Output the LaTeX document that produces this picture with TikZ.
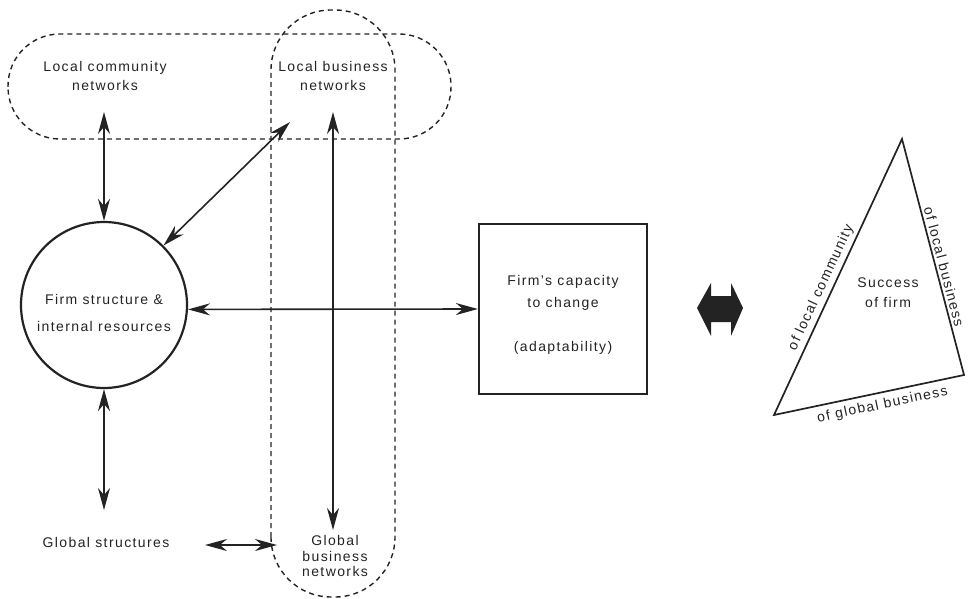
\documentclass[tikz,border=0pt]{standalone}
\usepackage{fontspec}
\setmainfont{Liberation Sans}[LetterSpace=10]
\usetikzlibrary{arrows.meta}
\definecolor{inkGray}{RGB}{35,35,35}

\begin{document}
\begin{tikzpicture}[x=1pt,y=1pt,
    every node/.style={font=\fontsize{14}{19}\selectfont, text=inkGray, align=center},
    netzone/.style={draw=inkGray, line width=1.4pt, dash pattern=on 5pt off 4pt},
    link/.style={draw=inkGray, line width=1.6pt,
      {Stealth[length=22pt,width=12pt,inset=7pt]}-{Stealth[length=22pt,width=12pt,inset=7pt]}},
    firmcirc/.style={draw=inkGray, circle, line width=2.2pt, minimum size=166pt, inner sep=0pt},
    capbox/.style={draw=inkGray, line width=2.2pt, minimum width=168pt, minimum height=170pt, inner sep=0pt}]
  \useasboundingbox (0,0) rectangle (968,598);

  % dashed network zones
  \draw[netzone, rounded corners=52pt] (8,459) rectangle (451,564);
  \draw[netzone, rounded corners=60pt] (271,1) rectangle (395,588);

  % the firm and its capacity
  \node[firmcirc] (firm) at (104,293) {};
  \node[font=\fontsize{14}{27}\selectfont] (firmtxt) at (104,285) {Firm structure \&\\internal resources};
  \node[capbox] (cap) at (563,289) {};
  \node[font=\fontsize{14}{22}\selectfont] (captxt) at (563,283) {Firm’s capacity\\to change\\[22pt](adaptability)};

  % networks
  \node (lcn) at (105,522) {Local community\\networks};
  \node (lbn) at (333,522) {Local business\\networks};
  \node (gs) at (106,56) {Global structures};
  \node[font=\fontsize{14}{15.5}\selectfont] (gbn) at (335,42) {Global\\business\\networks};

  \coordinate (lcend) at (104,486);
  \coordinate (lbendA) at (290,476);
  \coordinate (lbendB) at (333,486);
  \coordinate (gbend) at (333,68);
  \coordinate (gsend) at (104,88);
  \coordinate (gsright) at (205,53);
  \coordinate (gbleft) at (277,53);

  \draw[link] (lcend) -- (firm.north);
  \draw[link] (lbendA) -- (firm.45);
  \draw[link] (firm.-3) -- (cap.west);
  \draw[link] (lbendB) -- (gbend);
  \draw[link] (firm.south) -- (gsend);
  \draw[link] (gsright) -- (gbleft);

  % two-way block arrow
  \fill[inkGray] (697,290) -- (711,315) -- (711,302) -- (731,302) -- (731,315) -- (743,290)
    -- (731,262) -- (731,276) -- (711,276) -- (711,262) -- cycle;

  % success triangle
  \coordinate (triL) at (774,183);
  \coordinate (triT) at (902,459);
  \coordinate (triR) at (964,223);
  \draw[inkGray, line width=1.7pt] (triL) -- (triT) -- (triR) -- cycle;
  \node[font=\fontsize{14}{20}\selectfont] (succ) at (888,305) {Success\\of firm};
  \path (triL) -- node[sloped, above, pos=0.445, inner sep=4pt] (lclbl) {of local community} (triT);
  \path (triT) -- node[sloped, above, pos=0.55, inner sep=3pt] (lblbl) {of local business} (triR);
  \path (triL) -- node[sloped, below, pos=0.557, inner sep=6pt] (gblbl) {of global business} (triR);
\end{tikzpicture}
\end{document}
